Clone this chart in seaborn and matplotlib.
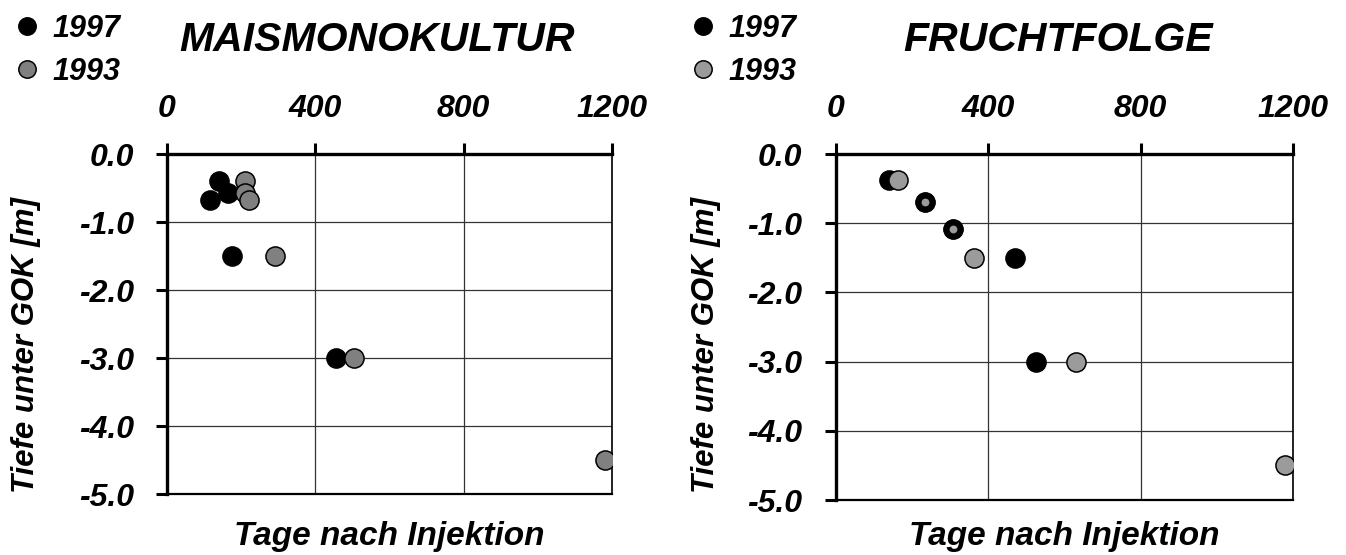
import matplotlib
matplotlib.use("Agg")
import matplotlib.pyplot as plt
import seaborn as sns
import pandas as pd
from matplotlib.ticker import FormatStrFormatter, FixedLocator
from matplotlib.lines import Line2D

# ---- data ----
mais_days_1997 = [140, 115, 165, 175, 455]
mais_depth_1997 = [-0.40, -0.68, -0.58, -1.50, -3.00]
mais_days_1993 = [210, 210, 220, 290, 505, 1180]
mais_depth_1993 = [-0.40, -0.57, -0.68, -1.50, -3.00, -4.50]

frucht_days_1997 = [140, 235, 307, 470, 525]
frucht_depth_1997 = [-0.38, -0.70, -1.08, -1.50, -3.00]
frucht_days_1993 = [165, 235, 307, 363, 630, 1180]
frucht_depth_1993 = [-0.38, -0.70, -1.08, -1.50, -3.00, -4.50]

x_ticks = [0, 400, 800, 1200]
y_ticks = [0.0, -1.0, -2.0, -3.0, -4.0, -5.0]
titles = ["MAISMONOKULTUR", "FRUCHTFOLGE"]
years = ["1997", "1993"]
xlabel = "Tage nach Injektion"
ylabel = "Tiefe unter GOK [m]"

sns.set_style("white")
plt.rcParams["font.family"] = ["Liberation Sans", "DejaVu Sans"]
plt.rcParams["axes.unicode_minus"] = False
plt.rcParams["text.color"] = "black"
plt.rcParams["xtick.color"] = "black"
plt.rcParams["ytick.color"] = "black"
plt.rcParams["axes.labelcolor"] = "black"

fig = plt.figure(figsize=(13.46, 5.55), dpi=100)
W, H = 1346, 555

def ax_rect(l, t, r, b):
    return [l / W, 1 - b / H, (r - l) / W, (b - t) / H]

panels = [
    dict(rect=ax_rect(167, 154, 612, 494), gray="#808080",
         d97=(mais_days_1997, mais_depth_1997), d93=(mais_days_1993, mais_depth_1993),
         title_x=377, leg_x=18, ylab_x=26, xlab_x=389),
    dict(rect=ax_rect(835.5, 154, 1293, 500), gray="#9b9b9b",
         d97=(frucht_days_1997, frucht_depth_1997), d93=(frucht_days_1993, frucht_depth_1993),
         title_x=1058, leg_x=694, ylab_x=706, xlab_x=1064),
]

fp = dict(fontweight="bold", fontstyle="italic", color="black")

for i, p in enumerate(panels):
    ax = fig.add_axes(p["rect"])
    df97 = pd.DataFrame({"days": p["d97"][0], "depth": p["d97"][1]})
    df93 = pd.DataFrame({"days": p["d93"][0], "depth": p["d93"][1]})
    pairs97 = set(zip(df97["days"], df97["depth"]))
    overlap = df93.apply(lambda r: (r["days"], r["depth"]) in pairs97, axis=1)

    sns.scatterplot(data=df97, x="days", y="depth", ax=ax, s=190, color="black",
                    edgecolor="black", linewidth=1.1, zorder=3)
    sns.scatterplot(data=df93[~overlap], x="days", y="depth", ax=ax, s=190,
                    color=p["gray"], edgecolor="black", linewidth=1.1, zorder=4)
    if overlap.any():
        sns.scatterplot(data=df93[overlap], x="days", y="depth", ax=ax, s=100,
                        color=p["gray"], edgecolor="black", linewidth=4.3, zorder=5)

    ax.set_xlim(0, 1200)
    ax.set_ylim(-5, 0)
    ax.xaxis.set_major_locator(FixedLocator(x_ticks))
    ax.yaxis.set_major_locator(FixedLocator(y_ticks))
    ax.yaxis.set_major_formatter(FormatStrFormatter("%.1f"))
    ax.xaxis.tick_top()
    ax.tick_params(axis="x", top=True, bottom=False, direction="out", length=8,
                   width=2.2, pad=13.5, labelsize=23, color="black", labelcolor="black")
    ax.tick_params(axis="y", left=True, right=False, direction="out", length=8,
                   width=2.2, pad=16, labelsize=23, color="black", labelcolor="black")
    for lab in ax.get_xticklabels() + ax.get_yticklabels():
        lab.set_fontweight("bold")
        lab.set_fontstyle("italic")
    ax.grid(True, color="#333333", linewidth=0.9)
    ax.set_axisbelow(True)
    for side, lw in [("left", 2.4), ("top", 2.4), ("bottom", 1.6), ("right", 1.2)]:
        ax.spines[side].set_visible(True)
        ax.spines[side].set_color("black")
        ax.spines[side].set_linewidth(lw)
    ax.set_xlabel("")
    ax.set_ylabel("")

    fig.text(p["title_x"] / W, 1 - 40 / H, titles[i], ha="center", va="center",
             fontsize=29.5, **fp)
    fig.text(p["xlab_x"] / W, 1 - 537 / H, xlabel, ha="center", va="center",
             fontsize=24, **fp)
    fig.text(p["ylab_x"] / W, 1 - 345 / H, ylabel, ha="center", va="center",
             rotation=90, fontsize=22.5, **fp)

    handles = [
        Line2D([], [], marker="o", linestyle="none", markersize=12.5,
               markerfacecolor="black", markeredgecolor="black", markeredgewidth=1.1),
        Line2D([], [], marker="o", linestyle="none", markersize=12.5,
               markerfacecolor=p["gray"], markeredgecolor="black", markeredgewidth=1.1),
    ]
    fig.legend(handles, years, loc="upper left",
               bbox_to_anchor=(p["leg_x"] / W, 1 - 14 / H), frameon=False,
               prop=dict(size=22, weight="bold", style="italic"),
               labelcolor="black",
               handlelength=0.6, handletextpad=0.52, labelspacing=0.42,
               borderpad=0, borderaxespad=0)

fig.savefig("out.png", dpi=100)
